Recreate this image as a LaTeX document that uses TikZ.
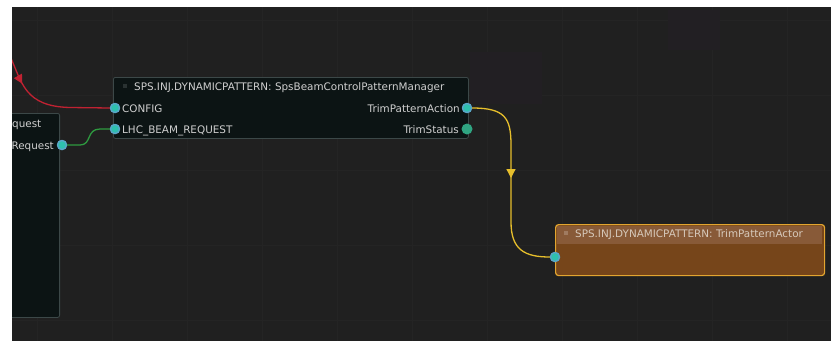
\documentclass[tikz,border=0pt]{standalone}
\usepackage{fontspec}
\setmainfont{DejaVu Sans}
\usetikzlibrary{arrows.meta,decorations.markings}
\definecolor{bg}{HTML}{202020}
\definecolor{gridc}{HTML}{242424}
\definecolor{nodefill}{HTML}{0C1414}
\definecolor{nodeborder}{HTML}{3C4848}
\definecolor{txtc}{HTML}{CFCFCF}
\definecolor{portfill}{HTML}{2EC0AE}
\definecolor{portring}{HTML}{5AA6C8}
\definecolor{statusc}{HTML}{2FA582}
\definecolor{redc}{HTML}{C02232}
\definecolor{greenc}{HTML}{2E9A40}
\definecolor{yellowc}{HTML}{E6BE2C}
\definecolor{actfill}{HTML}{76451A}
\definecolor{actbar}{HTML}{885A38}
\definecolor{actborder}{HTML}{E2A530}
\definecolor{acttxt}{HTML}{D6C8BA}
\definecolor{purplec}{HTML}{221F23}
\begin{document}
\begin{tikzpicture}[x=1pt,y=-1pt,
  box/.style={draw=nodeborder, fill=nodefill, rounded corners=2pt, line width=0.8pt, inner sep=0pt},
  txt/.style={text=txtc, font=\fontsize{10.4}{12}\selectfont, inner sep=0pt},
  port/.style={circle, fill=portfill, draw=portring, line width=1.3pt, inner sep=0pt, minimum size=9pt},
  statusport/.style={circle, fill=statusc, inner sep=0pt, minimum size=11pt},
  icon/.style={fill=nodeborder!70!black, inner sep=0pt, minimum size=4pt},
  wire/.style={line width=1.3pt},
  arrowmid/.style={postaction={decorate}, decoration={markings, mark=at position #1 with {\arrow{Triangle[width=9pt,length=9pt]}}}}
]
\useasboundingbox (0,0) rectangle (831,341);
\fill[white] (0,0) rectangle (831,341);
\fill[bg] (12,7) rectangle (831,341);
\begin{scope}
\clip (12,7) rectangle (831,341);
% faint grid
\foreach \x in {37,112,187,262,337,412,487,562,637,712,787}
  \draw[gridc, line width=0.6pt] (\x,7) -- (\x,341);
\foreach \y in {20,95,170,245,320}
  \draw[gridc, line width=0.6pt] (12,\y) -- (831,\y);
\fill[purplec] (470,52) rectangle (542,104);
\fill[purplec] (668,10) rectangle (720,50);
% left node (partly hidden)
\node[box, minimum width=90pt, minimum height=204pt, anchor=north east] (reqbox) at (60,113) {};
\node[txt, anchor=base west] (reqtitle) at (12,127) {quest};
\node[txt, anchor=base east] (reqlbl) at (54,149) {Request};
\node[port] (reqp) at (62,145) {};
% red connector
\coordinate (redstart) at (10,56);
\end{scope}
% main node
\node[box, minimum width=355pt, minimum height=61pt, anchor=north west] (mgr) at (113,77) {};
\node[icon] (mgricon) at (125,86) {};
\node[txt, anchor=base west] (mgrtitle) at (134,90) {SPS.INJ.DYNAMICPATTERN: SpsBeamControlPatternManager};
\node[txt, anchor=base west] (cfglbl) at (122,112) {CONFIG};
\node[txt, anchor=base west] (lhclbl) at (122,133) {LHC\_BEAM\_REQUEST};
\node[txt, anchor=base east] (talbl) at (460,112) {TrimPatternAction};
\node[txt, anchor=base east] (tslbl) at (459,133) {TrimStatus};
% actor node
\node[draw=actborder, fill=actfill, rounded corners=3pt, line width=1.2pt, inner sep=0pt,
      minimum width=269pt, minimum height=51pt, anchor=north west] (act) at (555,224) {};
\fill[actbar] (557,226) rectangle (822,244);
\node[icon, fill=actbar!80!white] (acticon) at (566,233) {};
\node[txt, text=acttxt, anchor=base west] (acttitle) at (575,237) {SPS.INJ.DYNAMICPATTERN: TrimPatternActor};
% ports
\node[port] (cfgp) at (115,108) {};
\node[port] (lhcp) at (115,129) {};
\node[port] (tap) at (467,108) {};
\node[statusport] (tsp) at (467,129) {};
\node[port] (actp) at (555,257) {};
% connectors
\begin{scope}
\clip (12,7) rectangle (831,341);
\draw[wire, redc, arrowmid=0.24] (redstart) .. controls (22,82) and (24,106.5) .. (70,107.5) -- (cfgp.west);
\end{scope}
\draw[wire, greenc] (reqp.east) -- (80,145) .. controls (92,145) and (86,129) .. (100,129) -- (lhcp.west);
\draw[wire, yellowc, arrowmid=0.48] (tap.east) .. controls (505,108) and (511,118) .. (511,145) -- (511,222) .. controls (511,250) and (525,257) .. (actp.west);
% redraw ports on top
\node[port] at (cfgp) {};
\node[port] at (lhcp) {};
\node[port] at (tap) {};
\node[port] at (actp) {};
\begin{scope}
\clip (12,7) rectangle (831,341);
\node[port] at (reqp) {};
\end{scope}
\end{tikzpicture}
\end{document}
